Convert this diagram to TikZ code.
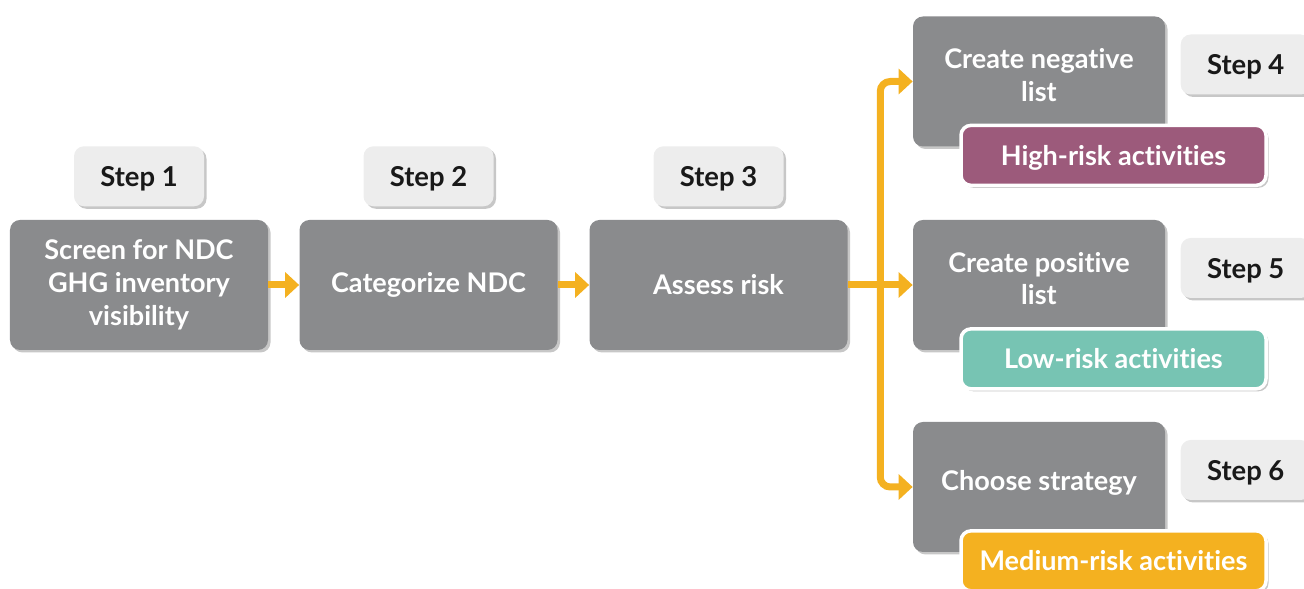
\documentclass[tikz,border=0pt]{standalone}
\usepackage{fontspec}
\setmainfont{Lato}[Ligatures=NoCommon]
\usepackage{tikz}
\usetikzlibrary{calc}
\usetikzlibrary{positioning}
\usetikzlibrary{shadows}
\usetikzlibrary{arrows.meta}

\definecolor{boxgrey}{HTML}{8A8B8D}
\definecolor{steplight}{HTML}{EDEDED}
\definecolor{flowyellow}{HTML}{F4B120}
\definecolor{riskhigh}{HTML}{9C5A7B}
\definecolor{risklow}{HTML}{77C4B3}
\definecolor{riskmed}{HTML}{F4B120}

\begin{document}
\begin{tikzpicture}[
    softshadow/.style={drop shadow={shadow xshift=0.05cm, shadow yshift=-0.05cm, opacity=0.22, fill=black}},
    mainbox/.style={rectangle, fill=boxgrey, rounded corners=0.2cm, softshadow, minimum height=2.6cm, minimum width=5.16cm, align=center, text=white, font=\fontsize{15.4}{18.7}\selectfont\bfseries},
    sidebox/.style={mainbox, minimum width=5.04cm, text depth=0.26cm},
    stepbox/.style={rectangle, fill=steplight, rounded corners=0.2cm, softshadow, minimum height=1.2cm, minimum width=2.6cm, text depth=0pt, text=black!90, font=\fontsize{15.6}{18.7}\selectfont\bfseries},
    riskbox/.style={rectangle, draw=white, line width=0.07cm, rounded corners=0.2cm, softshadow, minimum height=1.2cm, minimum width=6.1cm, text depth=0pt, text=white, font=\fontsize{15.4}{18.7}\selectfont\bfseries},
    flow/.style={draw=flowyellow, line width=0.14cm, rounded corners=0.2cm}
]
\useasboundingbox (0,0) rectangle (26.08,11.78);

% left row
\node at (2.78,6.08)[mainbox] (screen) {Screen for NDC\\GHG inventory\\visibility};
\node at (8.57,6.08)[mainbox] (categorize) {Categorize NDC};
\node at (14.37,6.08)[mainbox] (assess) {Assess risk};
\node[stepbox, above=0.26cm of screen] (step1) {Step 1};
\node[stepbox, above=0.26cm of categorize] (step2) {Step 2};
\node[stepbox, above=0.26cm of assess] (step3) {Step 3};

% right column
\node at (20.78,10.15)[sidebox] (negative) {Create negative\\list};
\node at (20.78,6.08)[sidebox] (positive) {Create positive\\list};
\node at (20.78,2.04)[sidebox] (strategy) {Choose strategy};
\node[stepbox, right=0.3cm of negative.east, yshift=0.34cm] (step4) {Step 4};
\node[stepbox, right=0.3cm of positive.east, yshift=0.34cm] (step5) {Step 5};
\node[stepbox, right=0.3cm of strategy.east, yshift=0.34cm] (step6) {Step 6};
\node at ($(negative.south)+(1.49,-0.17)$)[riskbox, fill=riskhigh] (high) {High-risk activities};
\node at ($(positive.south)+(1.49,-0.17)$)[riskbox, fill=risklow] (low) {Low-risk activities};
\node at ($(strategy.south)+(1.49,-0.17)$)[riskbox, fill=riskmed] (medium) {Medium-risk activities};

\coordinate (split) at ($(assess.east)!0.5!(positive.west)$);
\begin{scope}[>={Triangle[length=0.28cm,width=0.5cm]}]
	\draw [flow, ->] (screen.east) -- (categorize.west);
	\draw [flow, ->] (categorize.east) -- (assess.west);
	\draw [flow, ->] (assess.east) -- (positive.west);
	\draw [flow, ->] (split) |- (negative.west);
	\draw [flow, ->] (split) |- (strategy.west);
\end{scope}

\end{tikzpicture}
\end{document}
